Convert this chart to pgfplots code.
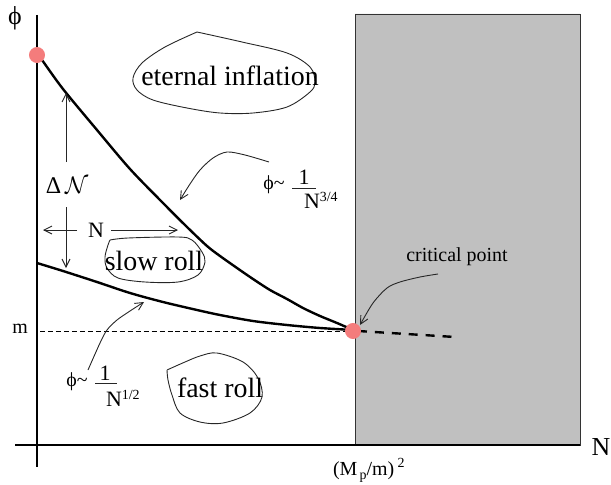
\documentclass[border=0pt]{standalone}
\usepackage{fontspec}
\setmainfont{Liberation Serif}
\usepackage{pgfplots}
\pgfplotsset{compat=1.18}
\usetikzlibrary{arrows.meta}
\definecolor{dotred}{HTML}{F47C7C}
\definecolor{boxgray}{HTML}{C0C0C0}
\newcommand{\fs}[1]{\fontsize{#1}{#1}\selectfont}

\begin{document}
\begin{tikzpicture}[>={Straight Barb[length=4pt,width=4pt]}]
\begin{axis}[
  scale only axis, width=305.5bp, height=242.5bp,
  xmin=0, xmax=611, ymin=0, ymax=485, y dir=reverse,
  hide axis, clip=false,
  every axis plot/.append style={mark=none},
  thin/.style={black!85, line width=0.45pt},
  every node/.append style={inner sep=0pt},
]
\coordinate (bl) at (axis cs:0,485);
\coordinate (tr) at (axis cs:611,0);
% forbidden region
\addplot[fill=boxgray, draw=black!80, line width=0.45pt] coordinates {(355,14) (580,14) (580,445) (355,445) (355,14)};
% axes
\addplot[black, line width=0.7pt] coordinates {(37,15) (37,467)};
\addplot[black, line width=0.7pt] coordinates {(15,445) (580,445)};
% m level
\addplot[black, line width=0.4pt, dash pattern=on 2.5pt off 1.5pt] coordinates {(40,331) (352,331)};
% phi ~ 1/N^{3/4}
\addplot[black, line width=1.2pt, smooth] coordinates {
  (37,54) (42,60) (63,89) (97,130) (130,169) (163,203) (187,227) (207,246)
  (220,256) (237,268) (253,279) (270,290) (287,299) (303,308) (320,316)
  (337,323) (353,330)};
% phi ~ 1/N^{1/2}
\addplot[black, line width=1.2pt, smooth] coordinates {
  (37,263) (63,271) (97,282) (130,293) (163,302) (197,310) (220,315)
  (253,321) (287,325) (320,328) (353,330)};
% continuation
\addplot[black, line width=1.2pt, dash pattern=on 4.5pt off 4pt] coordinates {(358,331) (455,337)};
% end points
\addplot[only marks, mark=*, mark size=3.8pt, color=dotred] coordinates {(37,55) (353,331)};
% region outlines
\addplot[thin, smooth, tension=0.55] coordinates {
  (197,32) (242,42) (287,53) (310,67) (315,82) (310,92) (287,107) (253,113)
  (220,113) (187,108) (153,100) (137,90) (133,78) (142,63) (165,47) (197,32)};
\addplot[thin, smooth, tension=0.55] coordinates {
  (110,240) (128,238) (178,237) (192,240) (202,252) (205,262) (198,275)
  (178,282) (145,282) (118,278) (107,268) (105,257) (108,245) (110,240)};
\addplot[thin, smooth, tension=0.55] coordinates {
  (167,370) (185,362) (200,356) (217,353) (243,362) (258,378) (262,397)
  (250,413) (223,423) (200,422) (180,413) (172,395) (168,380) (167,370)};
% arrows
\addplot[thin, ->] coordinates {(66,162) (66,93)};
\addplot[thin, ->] coordinates {(66,207) (66,268)};
\addplot[thin, ->] coordinates {(77,230) (43,230)};
\addplot[thin, ->] coordinates {(111,230) (178,230)};
\addplot[thin, smooth, ->] coordinates {
  (269,162) (245,155) (227,152) (213,158) (200,170) (190,184) (180,200)};
\addplot[thin, smooth, ->] coordinates {
  (88,370) (100,343) (107,330) (117,320) (130,311) (144,302)};
\addplot[thin, smooth, ->] coordinates {
  (438,274) (420,277) (400,282) (387,288) (373,303) (360,325)};
% fraction bars
\addplot[thin] coordinates {(292,188) (316,188)};
\addplot[thin] coordinates {(95,383) (117,383)};

% labels
\node[font=\fs{13}] at (axis cs:15,18) {ϕ};
\node[font=\fs{13}] at (axis cs:601,447) {N};
\node[font=\fs{10}] at (axis cs:20,329) {m};
\node[font=\fs{14}] at (axis cs:230,76) {eternal inflation};
\node[font=\fs{14}] at (axis cs:154,261) {slow roll};
\node[font=\fs{14}] at (axis cs:220,388) {fast roll};
\node[font=\fs{10}] at (axis cs:457,257) {critical point};
\node[font=\fs{12}] at (axis cs:67,185) {Δ\,$\mathcal{N}$};
\node[font=\fs{11}] at (axis cs:96,230) {N};
\node[font=\fs{10}] at (axis cs:274,185) {ϕ\textasciitilde};
\node[font=\fs{11}] at (axis cs:304,177) {1};
\node[font=\fs{11}, anchor=west] at (axis cs:297,200) {N\raisebox{0.7ex}{\fs{7}3/4}};
\node[font=\fs{10}] at (axis cs:77,382) {ϕ\textasciitilde};
\node[font=\fs{11}] at (axis cs:105,373) {1};
\node[font=\fs{11}, anchor=west] at (axis cs:99,398) {N\raisebox{0.7ex}{\fs{7}1/2}};
\node[font=\fs{10}, anchor=west] at (axis cs:326,470) {(M\raisebox{-0.4ex}{\fs{7}\,p}/m)\,\raisebox{0.9ex}{\fs{7}2}};
\end{axis}
\pgfresetboundingbox
\useasboundingbox (bl) rectangle (tr);
\end{tikzpicture}
\end{document}
